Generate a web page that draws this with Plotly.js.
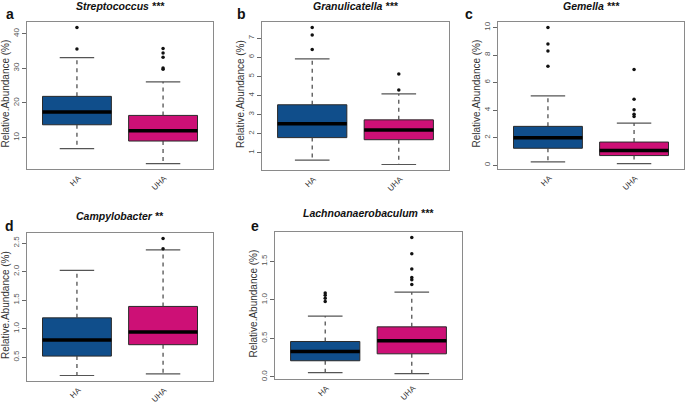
<!DOCTYPE html>
<html>
<head>
<meta charset="utf-8">
<script src="https://cdn.plot.ly/plotly-3.0.1.min.js"></script>
<style>html,body{margin:0;padding:0;background:#fff;}#chart{width:685px;height:404px;}</style>
</head>
<body>
<div id="chart"></div>
<script>
// ---- Data ----
const groups = ['HA', 'UHA'];
const groupPositions = [1, 2];
const panelLetters = ['a', 'b', 'c', 'd', 'e'];
const taxa = ['Streptococcus', 'Granulicatella', 'Gemella', 'Campylobacter', 'Lachnoanaerobaculum'];
const significance = ['***', '***', '***', '**', '***'];

// per panel: [HA, UHA]
const lowerWhisker = [[6.8, 2.5], [0.61, 0.38], [0.24, 0.12], [0.18, 0.21], [0.057, 0.044]];
const quartile1   = [[13.7, 9.0], [1.79, 1.68], [1.23, 0.70], [0.52, 0.72], [0.21, 0.30]];
const medians     = [[17.4, 12.0], [2.51, 2.19], [2.00, 1.06], [0.80, 0.94], [0.33, 0.47]];
const quartile3   = [[21.9, 16.4], [3.51, 2.72], [2.82, 1.68], [1.19, 1.39], [0.46, 0.65]];
const upperWhisker = [[33.1, 26.1], [5.91, 4.08], [5.04, 3.06], [2.02, 2.38], [0.79, 1.10]];
const outliersHA = [[41.8, 35.6], [7.56, 7.17, 6.40], [10.0, 8.8, 8.29, 7.18], [], [1.09, 1.06, 1.02, 0.98]];
const outliersUHA = [[35.7, 34.4, 33.2, 30.1, 29.7], [5.12, 4.29], [6.94, 4.79, 4.03, 3.69, 3.54], [2.58, 2.40], [1.81, 1.60, 1.40, 1.29, 1.26, 1.20]];

// y tick labels
const yTickVals = [[10, 20, 30, 40], [1, 2, 3, 4, 5, 6, 7], [0, 2, 4, 6, 8, 10], [0.5, 1.0, 1.5, 2.0, 2.5], [0.0, 0.5, 1.0, 1.5]];
const yTickText = [['10', '20', '30', '40'], ['1', '2', '3', '4', '5', '6', '7'], ['0', '2', '4', '6', '8', '10'], ['0.5', '1.0', '1.5', '2.0', '2.5'], ['0.0', '0.5', '1.0', '1.5']];
const yLabel = 'Relative.Abundance (%)';

// ---- Layout geometry (pixels) ----
const W = 685, H = 404;
const frames = [ // left, right, top, bottom
  [27, 213, 22, 169],
  [262, 449, 22, 170],
  [498, 684, 22, 169],
  [27, 213, 233, 381],
  [275, 462, 232, 379]
];
const titleY = [6, 6, 6, 216, 213];
const letterPos = [[10, 14], [241, 14], [469, 14], [9, 226], [255, 226]];
const yTitleX = [5, 240, 476, 5, 253];

const colors = ['#104E8B', '#CD1076'];
const fontFam = '"Liberation Sans", Arial, sans-serif';

const traces = [];
const layout = {
  width: W, height: H,
  margin: {l: 0, r: 0, t: 0, b: 0},
  paper_bgcolor: '#fff', plot_bgcolor: '#fff',
  showlegend: false,
  font: {family: fontFam},
  annotations: []
};

function rangeOf(vals) {
  const mn = Math.min(...vals), mx = Math.max(...vals);
  const ext = (mx - mn) * 0.04;
  return [mn - ext, mx + ext];
}

for (let p = 0; p < 5; p++) {
  const sfx = p === 0 ? '' : String(p + 1);
  const xa = 'x' + sfx, ya = 'y' + sfx;
  const [l, r, t, b] = frames[p];
  const allVals = [].concat(lowerWhisker[p], upperWhisker[p], outliersHA[p], outliersUHA[p]);
  const yr = rangeOf(allVals);

  layout['xaxis' + sfx] = {
    domain: [l / W, r / W], anchor: ya,
    range: [0.42, 2.58], fixedrange: true,
    tickvals: groupPositions, ticktext: groups, showticklabels: false,
    ticks: '', showgrid: false, zeroline: false,
    showline: true, mirror: true, linecolor: '#8a8a8a', linewidth: 1
  };
  layout['yaxis' + sfx] = {
    domain: [1 - b / H, 1 - t / H], anchor: xa,
    range: yr, fixedrange: true,
    tickvals: yTickVals[p], ticktext: yTickText[p], tickangle: -90,
    ticks: 'outside', ticklen: 4, tickcolor: '#666', tickwidth: 1,
    showgrid: false, zeroline: false,
    showline: true, mirror: true, linecolor: '#8a8a8a', linewidth: 1,
    tickfont: {size: 8, color: '#555', family: fontFam}
  };

  const outs = [outliersHA[p], outliersUHA[p]];
  for (let g = 0; g < 2; g++) {
    const xc = groupPositions[g];
    // dashed whiskers
    traces.push({
      type: 'scatter', mode: 'lines', xaxis: xa, yaxis: ya, hoverinfo: 'skip',
      x: [xc, xc, null, xc, xc],
      y: [quartile3[p][g], upperWhisker[p][g], null, quartile1[p][g], lowerWhisker[p][g]],
      line: {color: '#444', width: 1.2, dash: '4px,4px'}
    });
    // whisker caps
    traces.push({
      type: 'scatter', mode: 'lines', xaxis: xa, yaxis: ya, hoverinfo: 'skip',
      x: [xc - 0.2, xc + 0.2, null, xc - 0.2, xc + 0.2],
      y: [upperWhisker[p][g], upperWhisker[p][g], null, lowerWhisker[p][g], lowerWhisker[p][g]],
      line: {color: '#555', width: 1.2}
    });
    // box
    traces.push({
      type: 'box', xaxis: xa, yaxis: ya, name: groups[g],
      x: [xc], q1: [quartile1[p][g]], median: [medians[p][g]], q3: [quartile3[p][g]],
      lowerfence: [quartile1[p][g]], upperfence: [quartile3[p][g]],
      width: 0.8, whiskerwidth: 0, boxpoints: false,
      fillcolor: colors[g], line: {color: '#2a2a2a', width: 1}
    });
    // thick median
    traces.push({
      type: 'scatter', mode: 'lines', xaxis: xa, yaxis: ya, hoverinfo: 'skip',
      x: [xc - 0.4, xc + 0.4], y: [medians[p][g], medians[p][g]],
      line: {color: '#000', width: 3.5}
    });
    // outliers
    if (outs[g].length) {
      traces.push({
        type: 'scatter', mode: 'markers', xaxis: xa, yaxis: ya,
        x: outs[g].map(() => xc), y: outs[g],
        marker: {color: '#111', size: 3.5}
      });
    }
    // slanted group label
    layout.annotations.push({
      xref: xa, yref: ya + ' domain', x: xc, y: 0,
      xanchor: 'right', yanchor: 'top', xshift: 8, yshift: -3, borderpad: 0,
      showarrow: false, textangle: -45, text: groups[g],
      font: {size: 8, color: '#333', family: fontFam}
    });
  }

  // panel title
  layout.annotations.push({
    xref: 'paper', yref: 'paper', x: ((l + r) / 2) / W, y: 1 - titleY[p] / H,
    xanchor: 'center', yanchor: 'middle', showarrow: false,
    text: '<b><i>' + taxa[p] + ' ' + significance[p] + '</i></b>',
    font: {size: 10.5, color: '#111', family: fontFam}
  });
  // panel letter
  layout.annotations.push({
    xref: 'paper', yref: 'paper', x: letterPos[p][0] / W, y: 1 - letterPos[p][1] / H,
    xanchor: 'center', yanchor: 'middle', showarrow: false,
    text: '<b>' + panelLetters[p] + '</b>',
    font: {size: 14, color: '#111', family: fontFam}
  });
  // y axis title
  layout.annotations.push({
    xref: 'paper', yref: 'paper', x: yTitleX[p] / W, y: 1 - ((t + b) / 2 - 2) / H,
    xanchor: 'center', yanchor: 'middle', showarrow: false, textangle: -90,
    text: yLabel,
    font: {size: 10, color: '#333', family: fontFam}
  });
}

Plotly.newPlot('chart', traces, layout, {staticPlot: true, displayModeBar: false});
</script>
</body>
</html>
